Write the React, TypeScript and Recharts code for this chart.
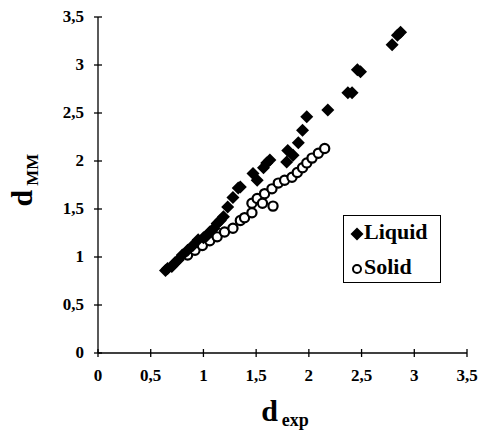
import React from "react";
import { ScatterChart, Scatter, XAxis, YAxis, Legend } from "recharts";

const liquidX = [0.64, 0.66, 0.7, 0.73, 0.76, 0.8, 0.85, 0.9, 0.95, 1.0, 1.03, 1.06, 1.1, 1.13, 1.16, 1.19, 1.23, 1.28, 1.33, 1.35, 1.47, 1.51, 1.57, 1.6, 1.63, 1.79, 1.8, 1.85, 1.9, 1.94, 1.98, 2.18, 2.37, 2.41, 2.46, 2.49, 2.79, 2.84, 2.87];
const liquidY = [0.86, 0.88, 0.9, 0.94, 0.97, 1.02, 1.07, 1.12, 1.18, 1.2, 1.22, 1.26, 1.3, 1.35, 1.38, 1.42, 1.52, 1.62, 1.72, 1.73, 1.87, 1.8, 1.93, 1.98, 2.01, 1.99, 2.11, 2.06, 2.19, 2.32, 2.46, 2.53, 2.71, 2.71, 2.95, 2.93, 3.21, 3.31, 3.34];

const solidX = [0.85, 0.92, 0.99, 1.06, 1.13, 1.2, 1.28, 1.35, 1.39, 1.46, 1.46, 1.51, 1.56, 1.58, 1.65, 1.66, 1.71, 1.77, 1.84, 1.89, 1.94, 1.98, 2.03, 2.09, 2.15];
const solidY = [1.02, 1.07, 1.12, 1.17, 1.21, 1.26, 1.3, 1.38, 1.41, 1.46, 1.56, 1.61, 1.56, 1.66, 1.71, 1.53, 1.77, 1.8, 1.83, 1.88, 1.93, 1.98, 2.03, 2.08, 2.13];

const ticks = [0, 0.5, 1, 1.5, 2, 2.5, 3, 3.5];

const liquid = liquidX.map((x, i) => ({ x, y: liquidY[i] }));
const solid = solidX.map((x, i) => ({ x, y: solidY[i] }));

const FONT = "'Liberation Serif', 'Times New Roman', serif";
const fmt = (v: number) => String(v).replace(".", ",");

// eslint-disable-next-line @typescript-eslint/no-explicit-any
const XTick = ({ x, y, payload }: any) => (
	<g>
		<line x1={x} x2={x} y1={y - 4} y2={y + 4} stroke="#000" strokeWidth={1.3} />
		<text x={x} y={y + 28} textAnchor="middle" fontFamily={FONT} fontWeight="bold" fontSize={17} fill="#000">
			{fmt(payload.value)}
		</text>
	</g>
);

// eslint-disable-next-line @typescript-eslint/no-explicit-any
const YTick = ({ x, y, payload }: any) => (
	<g>
		<line x1={x - 4} x2={x + 4} y1={y} y2={y} stroke="#000" strokeWidth={1.3} />
		<text x={x - 14} y={y + 5} textAnchor="end" fontFamily={FONT} fontWeight="bold" fontSize={17} fill="#000">
			{fmt(payload.value)}
		</text>
	</g>
);

// eslint-disable-next-line @typescript-eslint/no-explicit-any
const Diamond = ({ cx, cy }: any) => (
	<polygon points={`${cx},${cy - 6.5} ${cx + 6.5},${cy} ${cx},${cy + 6.5} ${cx - 6.5},${cy}`} fill="#000" />
);

// eslint-disable-next-line @typescript-eslint/no-explicit-any
const Ring = ({ cx, cy }: any) => <circle cx={cx} cy={cy} r={4.6} fill="#fff" stroke="#000" strokeWidth={2.2} />;

const LegendBox = () => (
	<div
		style={{
			width: 98,
			height: 68,
			boxSizing: "border-box",
			border: "1.5px solid #000",
			position: "relative",
			fontFamily: FONT,
			fontWeight: "bold",
			fontSize: 22,
			color: "#000",
			background: "#fff",
		}}
	>
		<svg width={14} height={14} style={{ position: "absolute", left: 6, top: 11 }}>
			<polygon points="7,0.5 13.5,7 7,13.5 0.5,7" fill="#000" />
		</svg>
		<span style={{ position: "absolute", left: 20, top: 4, lineHeight: "24px" }}>Liquid</span>
		<svg width={14} height={14} style={{ position: "absolute", left: 6, top: 46 }}>
			<circle cx={7} cy={7} r={4} fill="#fff" stroke="#000" strokeWidth={2} />
		</svg>
		<span style={{ position: "absolute", left: 20, top: 39, lineHeight: "24px" }}>Solid</span>
	</div>
);

export default function App() {
	return (
		<div style={{ position: "absolute", left: 0, top: 0, width: 481, height: 433, background: "#fff" }}>
			<ScatterChart width={481} height={433} margin={{ top: 17, right: 14, bottom: 30, left: 0 }}>
				<XAxis
					type="number"
					dataKey="x"
					domain={[0, 3.5]}
					ticks={ticks}
					height={50}
					tickSize={0}
					tickMargin={0}
					tickLine={false}
					tick={<XTick />}
					axisLine={{ stroke: "#000", strokeWidth: 1.3 }}
					label={({ viewBox }: any) => (
						<text x={285} y={viewBox.y + 68} textAnchor="middle" fontFamily={FONT} fontWeight="bold" fill="#000">
							<tspan fontSize={30}>d</tspan>
							<tspan fontSize={18} dx={4} dy={5}>exp</tspan>
						</text>
					)}
				/>
				<YAxis
					type="number"
					dataKey="y"
					domain={[0, 3.5]}
					ticks={ticks}
					width={98}
					tickSize={0}
					tickMargin={0}
					tickLine={false}
					tick={<YTick />}
					axisLine={{ stroke: "#000", strokeWidth: 1.3 }}
				/>
				<Legend
					layout="horizontal"
					verticalAlign="middle"
					align="center"
					wrapperStyle={{ left: 343, top: 215, width: 98, height: 68 }}
					content={() => <LegendBox />}
				/>
				<Scatter name="Solid" data={solid} shape={<Ring />} isAnimationActive={false} />
				<Scatter name="Liquid" data={liquid} shape={<Diamond />} isAnimationActive={false} />
			</ScatterChart>
			{/* y axis title, rotated to read bottom-to-top */}
			<svg width={60} height={120} style={{ position: "absolute", left: 0, top: 120 }}>
				<g transform="translate(32,60) rotate(-90)">
					<text x={0} y={0} textAnchor="middle" fontFamily={FONT} fontWeight="bold" fill="#000">
						<tspan fontSize={30}>d</tspan>
						<tspan fontSize={17} dx={4} dy={6}>MM</tspan>
					</text>
				</g>
			</svg>
		</div>
	);
}
